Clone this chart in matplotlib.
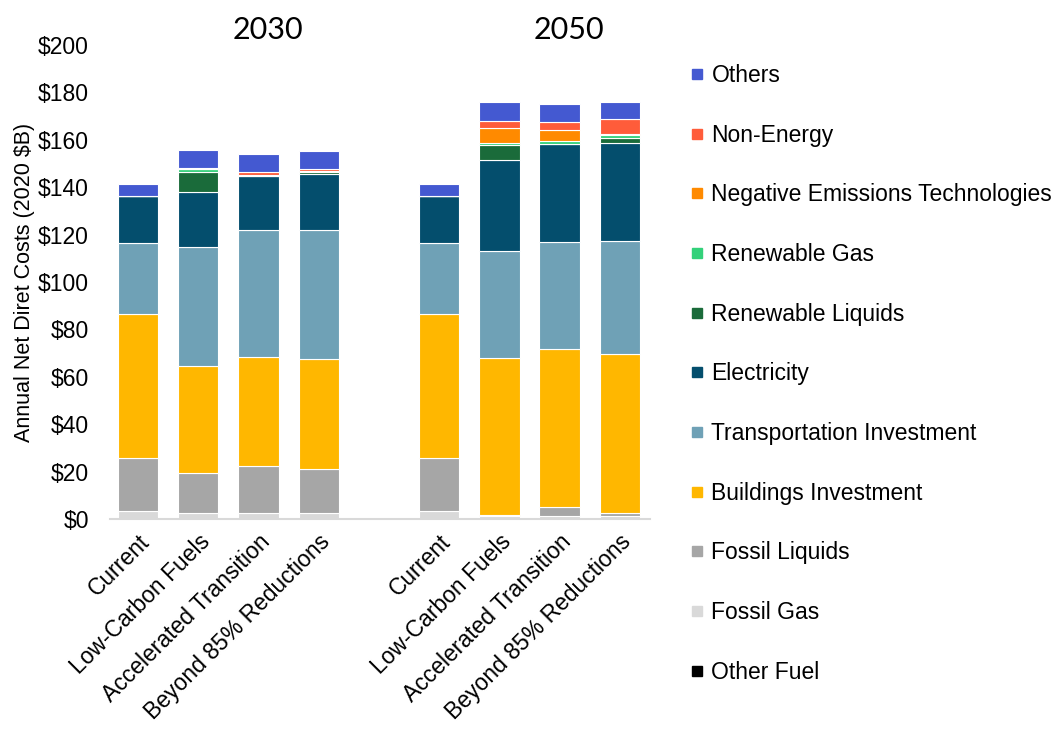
import matplotlib.pyplot as plt
import numpy as np
from matplotlib.lines import Line2D

plt.rcParams['font.family'] = ['Liberation Sans', 'DejaVu Sans']

# scenarios (two groups of four)
scenarios = ["Current", "Low-Carbon Fuels", "Accelerated Transition", "Beyond 85% Reductions"]
years = ["2030", "2050"]

# components, bottom to top
components = ["Other Fuel", "Fossil Gas", "Fossil Liquids", "Buildings Investment",
              "Transportation Investment", "Electricity", "Renewable Liquids",
              "Renewable Gas", "Negative Emissions Technologies", "Non-Energy", "Others"]
colors = ["#000000", "#d9d9d9", "#a6a6a6", "#ffb700", "#6fa1b6", "#044e6d",
          "#1a6b3a", "#33d17a", "#ff8a00", "#ff5c3a", "#4459d1"]

# values in 2020 $B, 2030 bars then 2050 bars
other_fuel = [0.2, 0.2, 0.2, 0.2, 0.2, 0.1, 0.1, 0.1]
fossil_gas = [3.0, 2.5, 2.5, 2.5, 3.0, 1.0, 1.0, 1.0]
fossil_liq = [22.5, 16.8, 19.7, 18.3, 22.5, 0.8, 3.8, 1.4]
buildings = [60.8, 45.1, 46.0, 46.5, 60.8, 66.1, 66.8, 67.1]
transport = [30.0, 50.2, 53.5, 54.5, 30.0, 45.0, 45.2, 47.7]
electricity = [19.8, 23.2, 22.8, 23.6, 19.8, 38.5, 41.3, 41.3]
renew_liq = [0.0, 8.4, 0.0, 0.8, 0.0, 6.3, 0.0, 2.0]
renew_gas = [0.0, 1.1, 0.6, 0.3, 0.0, 1.0, 1.5, 1.5]
neg_em = [0.0, 0.0, 0.0, 0.0, 0.0, 6.0, 4.5, 0.3]
non_energy = [0.0, 0.8, 1.2, 1.2, 0.0, 3.0, 3.5, 6.5]
others = [5.2, 7.4, 7.5, 7.2, 5.2, 8.0, 7.5, 7.0]

data = [other_fuel, fossil_gas, fossil_liq, buildings, transport, electricity,
        renew_liq, renew_gas, neg_em, non_energy, others]

x = np.array([0, 1, 2, 3, 5, 6, 7, 8])
labels = scenarios + scenarios

fig = plt.figure(figsize=(10.55, 7.31), dpi=100)
ax = fig.add_axes([0.104, 0.29, 0.512, 0.6484])

bottom = np.zeros(len(x))
for vals, c, name in zip(data, colors, components):
    vals = np.array(vals)
    ax.bar(x, vals, 0.67, bottom=bottom, color=c, edgecolor='white', linewidth=0.8, label=name)
    bottom += vals

ax.set_xlim(-0.47, 8.5)
ax.set_ylim(0, 200)
ax.set_yticks(np.arange(0, 201, 20))
ax.set_yticklabels(["$%d" % v for v in range(0, 201, 20)], fontsize=16.5)
ax.set_xticks(x)
ax.set_xticklabels(labels, rotation=45, ha='right', rotation_mode='anchor', fontsize=16.5)
ax.tick_params(axis='x', length=0, pad=8)
ax.tick_params(axis='y', length=0, pad=15)
ax.set_ylabel("Annual Net Diret Costs (2020 $B)", fontsize=15.5, labelpad=2)

for s in ['top', 'right', 'left']:
    ax.spines[s].set_visible(False)
ax.spines['bottom'].set_color('#d9d9d9')
ax.spines['bottom'].set_linewidth(1.5)

ax.text(2.15, 1.012, years[0], transform=ax.get_xaxis_transform(), fontsize=22,
        family='Lato', ha='center', va='baseline')
ax.text(7.15, 1.012, years[1], transform=ax.get_xaxis_transform(), fontsize=22,
        family='Lato', ha='center', va='baseline')

handles = [Line2D([], [], marker='s', linestyle='none', markersize=7,
                  markerfacecolor=c, markeredgecolor=c) for c in colors]
fig.legend(handles[::-1], components[::-1], loc='upper left', bbox_to_anchor=(0.645, 0.925),
           frameon=False, fontsize=16.5, labelspacing=1.6, handlelength=0.6,
           handletextpad=0.35, borderaxespad=0)

fig.savefig("out.png", dpi=100)
